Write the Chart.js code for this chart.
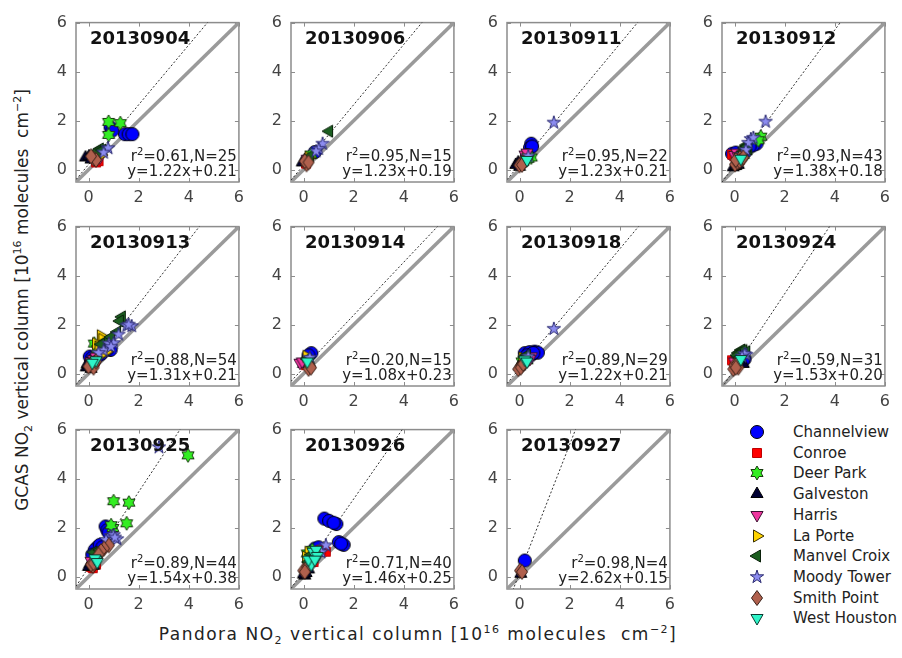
<!DOCTYPE html>
<html lang="en">
<head>
<meta charset="UTF-8">
<title>GCAS vs Pandora NO2</title>
<script src="https://cdn.jsdelivr.net/npm/chart.js"></script>
<style>
    body { margin: 0; background: #fff; width: 902px; height: 658px; position: relative; overflow: hidden; font-family: "DejaVu Sans", sans-serif; }
    canvas.panel { position: absolute; }
    .ytitle { position: absolute; left: -232px; top: 290px; width: 500px; height: 20px; line-height: 20px; text-align: center; font-size: 17px; color: #222; transform: rotate(-90deg); white-space: nowrap; }
    .xtitle { position: absolute; left: 118px; top: 623px; width: 600px; text-align: center; font-size: 17px; letter-spacing: 1.5px; color: #222; white-space: nowrap; }
    .ytitle sub, .xtitle sub { font-size: 11px; }
    .ytitle sup, .xtitle sup { font-size: 11px; }
    #legend { position: absolute; left: 740px; top: 422px; }
    .item { position: absolute; left: 0; height: 20px; width: 170px; }
    .item canvas { position: absolute; left: 8px; top: 1px; }
    .item span { position: absolute; left: 53px; top: 0; line-height: 20px; font-size: 15px; color: #222; white-space: nowrap; }
</style>
</head>
<body>

<div class="ytitle">GCAS NO<sub>2</sub> vertical column [10<sup>16</sup> molecules&nbsp; cm<sup>&minus;2</sup>]</div>
<div class="xtitle">Pandora NO<sub>2</sub> vertical column [10<sup>16</sup> molecules&nbsp; cm<sup>&minus;2</sup>]</div>
<div id="legend"></div>

<script>
    // sites (legend order)
    const sites = ['Channelview', 'Conroe', 'Deer Park', 'Galveston', 'Harris', 'La Porte', 'Manvel Croix', 'Moody Tower', 'Smith Point', 'West Houston'];
    const siteShape = ['circle', 'square', 'hexagram', 'up', 'down', 'right', 'left', 'pentagram', 'diamond', 'down'];
    const siteFill = ['#0000ff', '#ff0000', '#33ee22', '#000033', '#f0359f', '#ffd400', '#1b5e20', '#8c8cf0', '#b0604d', '#2ef5c8'];
    const siteEdge = ['#000000', '#c00000', '#1a3a10', '#000000', '#3a1030', '#3a3000', '#0a200a', '#2a2a70', '#3a2018', '#0a3a30'];

    // one panel per flight day
    const days = ['20130904', '20130906', '20130911', '20130912', '20130913', '20130914', '20130918', '20130924', '20130925', '20130926', '20130927'];
    const r2 = [0.61, 0.95, 0.95, 0.93, 0.88, 0.20, 0.89, 0.59, 0.89, 0.71, 0.98];
    const counts = [25, 15, 22, 43, 54, 15, 29, 31, 44, 40, 4];
    const slopes = [1.22, 1.23, 1.23, 1.38, 1.31, 1.08, 1.22, 1.53, 1.54, 1.46, 2.62];
    const intercepts = [0.21, 0.19, 0.21, 0.18, 0.21, 0.23, 0.21, 0.20, 0.38, 0.25, 0.15];
    const tickValues = [0, 2, 4, 6];

    // points: [site index, Pandora, GCAS]
    const pts0904 = [[0,0.88,1.72],[0,1.45,1.45],[0,1.6,1.45],[0,1.75,1.45],[0,0.95,1.6],[2,0.8,1.95],[2,1.27,1.9],[2,0.8,1.42],
        [6,0.45,0.85],[6,0.35,0.75],[6,0.55,0.8],[7,0.78,0.88],[7,0.6,0.7],[3,-0.12,0.5],[3,0.02,0.55],[3,0.1,0.42],
        [4,0.25,0.45],[4,0.45,0.5],[4,0.35,0.55],[8,0.2,0.45],[8,0.3,0.4],[8,0.1,0.55],[1,0.3,0.3],[1,0.4,0.35],[5,0.5,0.6]];
    const pts0906 = [[6,1.02,1.57],[7,0.76,1.06],[7,0.6,0.85],[7,0.5,0.75],[0,0.45,0.72],[2,0.3,0.62],[6,0.25,0.55],[3,0.05,0.4],
        [3,-0.05,0.3],[8,0.12,0.22],[8,0.05,0.35],[8,0.2,0.3],[1,0.1,0.25],[4,0.15,0.45],[5,0.2,0.5]];
    const pts0911 = [[7,1.37,1.92],[0,0.47,1.06],[0,0.42,0.9],[0,0.5,0.95],[4,0.22,0.62],[4,0.3,0.7],[2,0.47,0.5],[2,0.35,0.45],
        [8,0.05,0.25],[8,0.15,0.3],[8,0.0,0.18],[3,-0.15,0.2],[3,-0.05,0.3],[3,0.0,0.12],[6,0.15,0.35],[6,0.2,0.4],[1,0.1,0.3],
        [5,0.25,0.45],[9,0.3,0.4],[7,0.35,0.55],[0,0.3,0.6],[8,0.1,0.2]];
    const pts0912 = [[7,1.24,1.96],[2,1.05,1.35],[2,0.95,1.2],[7,0.65,1.25],[7,0.75,1.3],[7,0.55,1.1],[0,0.88,1.06],[0,0.75,1.0],
        [0,0.6,0.95],[6,0.47,1.0],[6,0.4,0.9],[6,0.55,0.85],[6,0.35,0.75],[1,-0.1,0.62],[1,0.0,0.55],[1,0.05,0.5],[4,0.0,0.6],
        [4,0.1,0.7],[4,0.15,0.55],[0,-0.1,0.65],[0,0.05,0.7],[8,0.22,0.48],[8,0.3,0.42],[8,0.02,0.22],[8,0.12,0.3],[8,0.2,0.35],
        [3,-0.05,0.1],[3,0.05,0.15],[3,0.15,0.2],[5,0.2,0.5],[9,0.25,0.45],[7,0.3,0.6],[6,0.25,0.65],[2,0.35,0.6],[0,0.4,0.7],
        [1,0.2,0.4],[4,0.3,0.5],[3,0.1,0.3],[8,0.35,0.5],[7,0.45,0.8],[6,0.5,0.95],[0,0.25,0.55],[8,0.05,0.4]];
    const pts0913 = [[6,1.33,2.32],[6,1.14,1.7],[6,1.25,2.15],[7,1.52,1.96],[7,1.72,1.94],[7,1.6,2.0],[7,0.81,1.23],[7,1.0,1.25],
        [5,0.49,1.55],[5,0.62,0.84],[5,0.3,1.23],[5,0.4,1.1],[5,0.55,1.4],[2,0.23,1.23],[2,0.35,1.0],[0,0.88,0.97],[0,0.75,1.0],
        [0,0.1,0.58],[0,0.2,0.5],[0,0.05,0.7],[3,-0.09,0.26],[3,0.0,0.35],[3,0.1,0.2],[8,0.17,0.32],[8,0.1,0.4],[8,0.25,0.45],
        [8,0.2,0.25],[6,0.7,1.35],[6,0.9,1.5],[7,1.2,1.6],[7,0.6,0.95],[4,0.1,0.5],[4,0.2,0.6],[1,0.15,0.4],[1,0.05,0.45],
        [9,0.3,0.55],[5,0.7,0.9],[0,0.5,0.8],[0,0.35,0.7],[2,0.5,1.1],[6,0.5,1.2],[3,0.05,0.5],[8,0.0,0.3],[7,0.9,1.1],
        [0,0.6,1.05],[5,0.45,0.75],[4,0.3,0.7],[1,0.25,0.5],[9,0.15,0.45],[6,0.2,0.55],[3,-0.05,0.4],[8,0.3,0.5],[0,0.15,0.65],[7,0.4,0.85]];
    const pts0914 = [[0,0.31,0.84],[0,0.2,0.75],[5,0.12,0.71],[4,-0.14,0.45],[4,-0.05,0.5],[8,0.25,0.32],[8,0.2,0.2],[8,0.3,0.25],
        [3,0.05,0.58],[3,0.0,0.4],[6,0.15,0.6],[1,0.1,0.35],[2,0.2,0.55],[9,0.15,0.5],[7,0.25,0.65]];
    const pts0918 = [[7,1.37,1.83],[0,0.21,0.84],[0,0.6,0.9],[0,0.73,0.86],[0,0.4,0.88],[0,0.5,0.8],[9,0.21,0.58],[5,0.12,0.65],
        [4,0.47,0.71],[4,0.35,0.65],[8,-0.05,0.19],[8,0.1,0.35],[8,0.05,0.25],[3,0.0,0.3],[3,0.1,0.45],[6,0.2,0.7],[1,0.15,0.5],
        [2,0.3,0.55],[7,0.35,0.7],[0,0.3,0.75],[9,0.3,0.5],[5,0.2,0.6],[8,0.15,0.4],[3,0.05,0.4],[1,0.25,0.55],[6,0.3,0.75],
        [4,0.4,0.6],[0,0.55,0.85],[2,0.1,0.5]];
    const pts0924 = [[6,0.27,0.97],[6,0.15,0.85],[6,0.47,0.9],[6,0.35,0.95],[7,0.47,0.77],[7,0.4,0.8],[0,0.4,0.6],[0,0.3,0.7],
        [8,-0.05,0.19],[8,0.08,0.32],[8,0.15,0.25],[8,0.0,0.35],[3,0.2,0.58],[3,0.3,0.45],[1,-0.1,0.55],[1,0.0,0.45],[4,0.1,0.6],
        [2,0.2,0.75],[5,0.15,0.7],[9,0.25,0.6],[6,0.1,0.75],[0,0.2,0.65],[8,0.1,0.4],[3,0.1,0.5],[7,0.3,0.7],[6,0.2,0.65],
        [1,0.05,0.35],[4,0.0,0.5],[0,0.35,0.55],[8,0.05,0.25],[3,0.35,0.4]];
    const pts0925 = [[7,2.81,5.28],[2,3.97,4.95],[2,1.0,3.08],[2,1.61,3.02],[2,1.52,2.18],[2,0.97,1.99],[0,0.68,2.05],[0,0.75,1.9],
        [0,0.36,1.21],[0,0.25,1.1],[0,0.45,1.3],[7,0.88,1.66],[7,1.14,1.53],[7,1.0,1.7],[8,0.81,1.28],[8,0.62,1.15],[8,0.5,1.05],
        [8,0.17,0.44],[8,0.1,0.5],[9,0.3,0.7],[9,0.25,0.75],[3,0.05,0.5],[3,0.15,0.6],[1,0.17,0.35],[1,0.1,0.4],[6,0.3,0.95],
        [6,0.2,1.0],[4,0.2,0.55],[5,0.3,0.8],[0,0.8,1.8],[7,0.7,1.5],[8,0.4,0.9],[6,0.45,1.1],[3,0.0,0.4],[0,0.15,0.9],
        [9,0.35,0.6],[8,0.2,0.55],[1,0.3,0.5],[4,0.1,0.65],[2,0.9,2.1],[7,1.05,1.6],[0,0.55,1.2],[3,0.2,0.45],[6,0.35,0.85]];
    const pts0926 = [[0,0.83,2.37],[0,1.02,2.28],[0,1.31,2.15],[0,1.2,2.2],[0,1.41,1.41],[0,1.6,1.3],[0,1.5,1.35],[7,0.89,1.28],
        [9,0.38,1.02],[9,0.31,0.5],[9,0.5,1.1],[9,0.2,0.7],[1,0.89,1.02],[1,0.7,1.1],[2,0.15,0.95],[2,0.25,0.85],[8,-0.01,0.25],
        [8,0.15,0.4],[8,0.3,0.6],[8,0.5,0.95],[3,0.05,0.05],[3,0.1,0.15],[5,0.2,1.0],[6,0.3,0.9],[4,0.6,0.95],[0,0.45,1.15],
        [7,0.6,1.05],[8,0.4,0.75],[9,0.55,0.85],[3,0.2,0.3],[1,0.4,0.6],[6,0.2,0.6],[5,0.1,0.8],[2,0.35,1.1],[8,0.05,0.2],
        [9,0.45,0.7],[7,0.7,1.0],[4,0.3,0.55],[0,0.6,1.2],[3,0.0,0.1]];
    const pts0927 = [[0,0.21,0.66],[8,0.02,0.25],[8,0.1,0.2],[3,0.05,0.12]];
    const allPts = [pts0904, pts0906, pts0911, pts0912, pts0913, pts0914, pts0918, pts0924, pts0925, pts0926, pts0927];

    const FONT = '"DejaVu Sans", sans-serif';

    // draw a MATLAB-like marker into a small canvas, used as pointStyle
    function makeMarker(shape, fill, edge) {
        const c = document.createElement('canvas');
        c.width = 18; c.height = 18;
        const g = c.getContext('2d');
        const m = 9;
        g.beginPath();
        if (shape === 'circle') {
            g.arc(m, m, 6.5, 0, 2 * Math.PI);
        } else if (shape === 'square') {
            g.rect(m - 4.5, m - 4.5, 9, 9);
        } else if (shape === 'diamond') {
            g.moveTo(m, m - 7.5); g.lineTo(m + 5.5, m); g.lineTo(m, m + 7.5); g.lineTo(m - 5.5, m);
            g.closePath();
        } else if (shape === 'hexagram' || shape === 'pentagram') {
            const n = shape === 'hexagram' ? 6 : 5;
            const R = 7, r = shape === 'hexagram' ? R / Math.sqrt(3) : R * 0.382;
            for (let i = 0; i < 2 * n; i++) {
                const ang = -Math.PI / 2 + i * Math.PI / n;
                const rr = i % 2 ? r : R;
                const px = m + rr * Math.cos(ang), py = m + rr * Math.sin(ang);
                if (i === 0) g.moveTo(px, py); else g.lineTo(px, py);
            }
            g.closePath();
        } else {
            const base = {up: -90, down: 90, right: 0, left: 180}[shape] * Math.PI / 180;
            for (let i = 0; i < 3; i++) {
                const ang = base + i * 2 * Math.PI / 3;
                const px = m + 7 * Math.cos(ang), py = m + 7 * Math.sin(ang);
                if (i === 0) g.moveTo(px, py); else g.lineTo(px, py);
            }
            g.closePath();
        }
        g.fillStyle = fill;
        g.fill();
        g.lineWidth = 1;
        g.strokeStyle = edge;
        g.stroke();
        return c;
    }

    const markers = sites.map((s, i) => makeMarker(siteShape[i], siteFill[i], siteEdge[i]));

    // frame, inward ticks, date and fit text
    const panelDecor = {
        id: 'panelDecor',
        beforeDatasetsDraw(chart) {
            const {ctx, chartArea: a, scales} = chart;
            ctx.save();
            ctx.strokeStyle = '#8c8c8c';
            ctx.lineWidth = 1.5;
            ctx.strokeRect(a.left, a.top, a.width, a.height);
            ctx.lineWidth = 1;
            tickValues.forEach(v => {
                const px = Math.round(scales.x.getPixelForValue(v)) + 0.5;
                const py = Math.round(scales.y.getPixelForValue(v)) + 0.5;
                ctx.beginPath();
                ctx.moveTo(px, a.bottom); ctx.lineTo(px, a.bottom - 4);
                ctx.moveTo(px, a.top); ctx.lineTo(px, a.top + 4);
                ctx.moveTo(a.left, py); ctx.lineTo(a.left + 4, py);
                ctx.moveTo(a.right, py); ctx.lineTo(a.right - 4, py);
                ctx.stroke();
            });
            ctx.restore();
        },
        afterDatasetsDraw(chart, args, o) {
            const {ctx, chartArea: a} = chart;
            ctx.save();
            ctx.fillStyle = '#111';
            ctx.textBaseline = 'alphabetic';
            ctx.textAlign = 'left';
            ctx.font = 'bold 18px ' + FONT;
            ctx.fillText(o.day, a.left + 14, a.top + 21);

            ctx.fillStyle = '#222';
            ctx.textAlign = 'right';
            const xr = a.right - 2;
            ctx.font = '15px ' + FONT;
            ctx.fillText('y=' + o.slope.toFixed(2) + 'x+' + o.icpt.toFixed(2), xr, a.bottom - 6);
            const rest = '=' + o.r2.toFixed(2) + ',N=' + o.n;
            ctx.fillText(rest, xr, a.bottom - 21);
            const w1 = ctx.measureText(rest).width;
            ctx.font = '10px ' + FONT;
            ctx.fillText('2', xr - w1, a.bottom - 27);
            const w2 = ctx.measureText('2').width;
            ctx.font = '15px ' + FONT;
            ctx.fillText('r', xr - w1 - w2, a.bottom - 21);
            ctx.restore();
        }
    };

    const colLeft = [76, 291, 507, 722];
    const rowTop = [14, 218, 421];
    const SIZE = 168;
    const padL = 34, padT = 10, padR = 6, padB = 26;

    function axis(isY) {
        return {
            type: 'linear', min: -0.5, max: 6,
            afterBuildTicks: s => { s.ticks = tickValues.map(v => ({value: v})); },
            afterFit: s => { if (isY) s.width = padL; else s.height = padB; },
            grid: {display: false, drawTicks: false},
            border: {display: false},
            ticks: {font: {family: FONT, size: 16}, color: '#444', padding: isY ? 9 : 6, maxRotation: 0}
        };
    }

    days.forEach((day, k) => {
        const cv = document.createElement('canvas');
        cv.className = 'panel';
        cv.width = padL + SIZE + padR;
        cv.height = padT + SIZE + padB;
        cv.style.left = (colLeft[k % 4] - padL) + 'px';
        cv.style.top = (rowTop[Math.floor(k / 4)] - padT) + 'px';
        document.body.appendChild(cv);

        const datasets = [];
        // 1:1 line
        datasets.push({data: [{x: -0.5, y: -0.5}, {x: 6, y: 6}], showLine: true, pointRadius: 0,
            borderColor: '#9a9a9a', borderWidth: 3.5, order: 100});
        // regression fit
        const a = slopes[k], b = intercepts[k];
        datasets.push({data: [{x: -0.5, y: a * -0.5 + b}, {x: 6, y: a * 6 + b}], showLine: true, pointRadius: 0,
            borderColor: '#333', borderWidth: 1, borderDash: [2, 2], order: 99});
        sites.forEach((s, i) => {
            const d = allPts[k].filter(p => p[0] === i).map(p => ({x: p[1], y: p[2]}));
            if (!d.length) return;
            datasets.push({label: s, data: d, pointStyle: markers[i], pointRadius: 7, order: 10 - i});
        });

        new Chart(cv.getContext('2d'), {
            type: 'scatter',
            data: {datasets},
            options: {
                responsive: false,
                animation: false,
                events: [],
                layout: {padding: {top: padT, right: padR, left: 0, bottom: 0}},
                plugins: {
                    legend: {display: false},
                    tooltip: {enabled: false},
                    panelDecor: {day: day, r2: r2[k], n: counts[k], slope: slopes[k], icpt: intercepts[k]}
                },
                scales: {x: axis(false), y: axis(true)}
            },
            plugins: [panelDecor]
        });
    });

    // legend
    const legend = document.getElementById('legend');
    sites.forEach((s, i) => {
        const item = document.createElement('div');
        item.className = 'item';
        item.style.top = (i * 20.7) + 'px';
        const mc = makeMarker(siteShape[i], siteFill[i], siteEdge[i]);
        const span = document.createElement('span');
        span.textContent = s;
        item.appendChild(mc);
        item.appendChild(span);
        legend.appendChild(item);
    });
</script>
</body>
</html>
